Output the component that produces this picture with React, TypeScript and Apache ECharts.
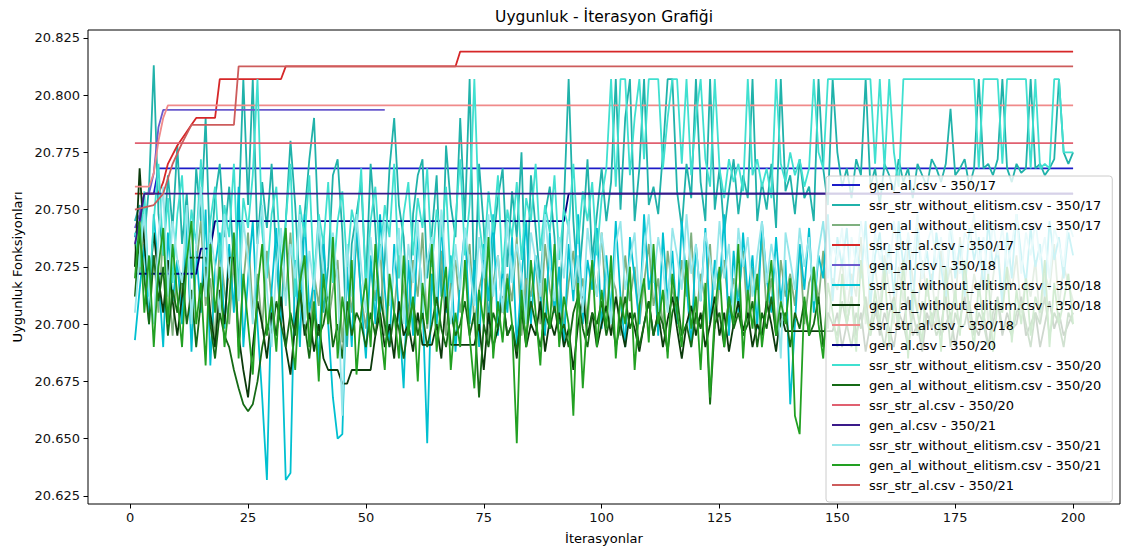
import React, { useEffect, useRef } from 'react';
import * as echarts from 'echarts';

const FONT = "'DejaVu Sans', Verdana, sans-serif";

const titleText = 'Uygunluk - İterasyon Grafiği';
const xName = 'İterasyonlar';
const yName = 'Uygunluk Fonksiyonları';

const xTicks = [0, 25, 50, 75, 100, 125, 150, 175, 200];
const yTicks = [20.625, 20.65, 20.675, 20.7, 20.725, 20.75, 20.775, 20.8, 20.825];

const iterations = Array.from({ length: 200 }, (_, i) => i + 1);

// ---- elitist runs: [iteration, fitness] change points ----
const genAl17 = [[1, 20.738], [2, 20.745], [3, 20.757], [5, 20.757], [6, 20.768], [200, 20.768]];
const genAl18 = [[1, 20.742], [2, 20.748], [3, 20.757], [4, 20.757], [5, 20.766], [6, 20.786], [7, 20.7935], [54, 20.7935]];
const genAl20 = [[1, 20.722], [14, 20.722], [15, 20.733], [17, 20.733], [18, 20.745], [92, 20.745], [93, 20.757], [200, 20.757]];
const genAl21 = [[1, 20.735], [2, 20.745], [3, 20.757], [200, 20.757]];

const ssrAl17 = [[1, 20.757], [6, 20.757], [7, 20.762], [8, 20.770], [10, 20.778], [12, 20.784], [13, 20.787], [14, 20.790], [18, 20.790], [19, 20.807], [32, 20.807], [33, 20.8125], [69, 20.8125], [70, 20.819], [200, 20.819]];
const ssrAl18 = [[1, 20.760], [4, 20.760], [5, 20.766], [6, 20.780], [7, 20.790], [8, 20.7955], [200, 20.7955]];
const ssrAl20 = [[1, 20.779], [200, 20.779]];
const ssrAl21 = [[1, 20.750], [5, 20.752], [7, 20.757], [9, 20.770], [11, 20.779], [13, 20.787], [22, 20.787], [23, 20.8125], [200, 20.8125]];

// ---- runs without elitism: fitness per iteration 1..200 ----
const ssrWo17 = [
  20.745, 20.752, 20.738, 20.760, 20.813, 20.748, 20.730, 20.765, 20.742, 20.778,
  20.735, 20.757, 20.720, 20.768, 20.745, 20.790, 20.728, 20.755, 20.770, 20.738,
  20.760, 20.725, 20.748, 20.807, 20.752, 20.807, 20.735, 20.762, 20.742, 20.770,
  20.728, 20.700, 20.745, 20.780, 20.752, 20.715, 20.748, 20.772, 20.790, 20.738,
  20.705, 20.725, 20.765, 20.772, 20.740, 20.690, 20.735, 20.748, 20.762, 20.718,
  20.770, 20.742, 20.705, 20.728, 20.768, 20.790, 20.752, 20.738, 20.700, 20.748,
  20.765, 20.772, 20.720, 20.740, 20.765, 20.712, 20.778, 20.752, 20.738, 20.790,
  20.745, 20.807, 20.710, 20.770, 20.742, 20.700, 20.735, 20.755, 20.768, 20.725,
  20.758, 20.738, 20.775, 20.705, 20.765, 20.742, 20.718, 20.748, 20.760, 20.738,
  20.700, 20.752, 20.807, 20.745, 20.715, 20.740, 20.772, 20.728, 20.748, 20.768,
  20.745, 20.762, 20.807, 20.750, 20.790, 20.807, 20.745, 20.768, 20.807, 20.752,
  20.760, 20.748, 20.775, 20.807, 20.807, 20.758, 20.742, 20.770, 20.755, 20.807,
  20.762, 20.745, 20.807, 20.750, 20.768, 20.740, 20.758, 20.772, 20.748, 20.765,
  20.755, 20.807, 20.745, 20.762, 20.750, 20.770, 20.742, 20.807, 20.758, 20.765,
  20.748, 20.772, 20.755, 20.760, 20.745, 20.807, 20.768, 20.752, 20.807, 20.775,
  20.760, 20.768, 20.755, 20.772, 20.765, 20.807, 20.760, 20.768, 20.752, 20.770,
  20.765, 20.758, 20.772, 20.762, 20.768, 20.755, 20.770, 20.765, 20.760, 20.772,
  20.768, 20.762, 20.770, 20.794, 20.765, 20.768, 20.772, 20.760, 20.768, 20.807,
  20.768, 20.770, 20.765, 20.772, 20.807, 20.768, 20.762, 20.770, 20.766, 20.768,
  20.807, 20.768, 20.770, 20.765, 20.768, 20.772, 20.807, 20.775, 20.770, 20.775,
];
const ssrWo18 = [
  20.693, 20.715, 20.735, 20.700, 20.748, 20.722, 20.690, 20.740, 20.710, 20.728,
  20.700, 20.745, 20.688, 20.732, 20.705, 20.750, 20.682, 20.725, 20.740, 20.698,
  20.735, 20.705, 20.760, 20.690, 20.720, 20.745, 20.700, 20.668, 20.632, 20.715,
  20.742, 20.700, 20.632, 20.635, 20.728, 20.690, 20.748, 20.705, 20.720, 20.682,
  20.738, 20.700, 20.668, 20.650, 20.652, 20.725, 20.690, 20.745, 20.710, 20.685,
  20.730, 20.700, 20.748, 20.715, 20.690, 20.735, 20.705, 20.672, 20.728, 20.695,
  20.740, 20.710, 20.648, 20.722, 20.698, 20.745, 20.705, 20.730, 20.688, 20.720,
  20.742, 20.700, 20.728, 20.690, 20.735, 20.710, 20.748, 20.695, 20.725, 20.705,
  20.738, 20.690, 20.720, 20.745, 20.700, 20.730, 20.712, 20.695, 20.740, 20.705,
  20.725, 20.690, 20.735, 20.710, 20.748, 20.700, 20.728, 20.715, 20.742, 20.698,
  20.730, 20.705, 20.745, 20.712, 20.690, 20.738, 20.720, 20.700, 20.748, 20.715,
  20.728, 20.695, 20.740, 20.710, 20.732, 20.700, 20.745, 20.718, 20.690, 20.735,
  20.710, 20.742, 20.700, 20.728, 20.715, 20.748, 20.695, 20.732, 20.705, 20.740,
  20.712, 20.730, 20.698, 20.745, 20.720, 20.705, 20.738, 20.710, 20.728, 20.665,
  20.700, 20.735, 20.715, 20.742, 20.705, 20.730, 20.720, 20.748, 20.710, 20.738,
  20.725, 20.742, 20.712, 20.735, 20.720, 20.745, 20.708, 20.730, 20.740, 20.718,
  20.735, 20.712, 20.745, 20.725, 20.738, 20.705, 20.742, 20.720, 20.732, 20.715,
  20.740, 20.725, 20.710, 20.745, 20.720, 20.735, 20.712, 20.742, 20.728, 20.738,
  20.715, 20.745, 20.725, 20.732, 20.708, 20.740, 20.720, 20.748, 20.730, 20.718,
  20.742, 20.725, 20.735, 20.712, 20.745, 20.728, 20.738, 20.720, 20.740, 20.730,
];
const ssrWo20 = [
  20.740, 20.725, 20.758, 20.712, 20.745, 20.770, 20.730, 20.755, 20.718, 20.748,
  20.765, 20.725, 20.750, 20.735, 20.772, 20.718, 20.745, 20.760, 20.728, 20.752,
  20.738, 20.770, 20.715, 20.755, 20.742, 20.765, 20.807, 20.740, 20.720, 20.748,
  20.760, 20.725, 20.745, 20.770, 20.712, 20.752, 20.738, 20.765, 20.720, 20.748,
  20.735, 20.762, 20.718, 20.745, 20.758, 20.725, 20.750, 20.740, 20.768, 20.715,
  20.745, 20.760, 20.728, 20.752, 20.738, 20.770, 20.720, 20.748, 20.762, 20.730,
  20.755, 20.742, 20.768, 20.725, 20.750, 20.738, 20.760, 20.718, 20.745, 20.772,
  20.730, 20.752, 20.807, 20.745, 20.728, 20.758, 20.740, 20.765, 20.722, 20.750,
  20.738, 20.762, 20.728, 20.755, 20.745, 20.770, 20.732, 20.752, 20.740, 20.765,
  20.728, 20.750, 20.742, 20.770, 20.735, 20.758, 20.745, 20.762, 20.730, 20.755,
  20.768, 20.807, 20.760, 20.807, 20.807, 20.765, 20.790, 20.807, 20.772, 20.807,
  20.807, 20.807, 20.768, 20.790, 20.807, 20.807, 20.770, 20.807, 20.765, 20.790,
  20.807, 20.772, 20.760, 20.807, 20.768, 20.755, 20.772, 20.762, 20.770, 20.758,
  20.807, 20.765, 20.772, 20.760, 20.768, 20.755, 20.807, 20.770, 20.762, 20.775,
  20.765, 20.772, 20.760, 20.768, 20.807, 20.775, 20.768, 20.807, 20.807, 20.807,
  20.807, 20.807, 20.807, 20.807, 20.807, 20.807, 20.807, 20.770, 20.807, 20.768,
  20.807, 20.775, 20.760, 20.807, 20.807, 20.807, 20.807, 20.807, 20.807, 20.807,
  20.807, 20.807, 20.807, 20.807, 20.807, 20.807, 20.807, 20.807, 20.807, 20.768,
  20.807, 20.807, 20.807, 20.807, 20.770, 20.807, 20.807, 20.807, 20.807, 20.807,
  20.768, 20.807, 20.768, 20.770, 20.768, 20.807, 20.807, 20.775, 20.775, 20.775,
];
const ssrWo21 = [
  20.705, 20.730, 20.748, 20.715, 20.700, 20.738, 20.760, 20.712, 20.745, 20.728,
  20.718, 20.752, 20.700, 20.735, 20.760, 20.712, 20.740, 20.725, 20.705, 20.748,
  20.720, 20.738, 20.710, 20.745, 20.728, 20.700, 20.735, 20.752, 20.715, 20.690,
  20.725, 20.742, 20.708, 20.735, 20.720, 20.748, 20.700, 20.732, 20.715, 20.745,
  20.722, 20.705, 20.740, 20.718, 20.660, 20.735, 20.712, 20.748, 20.725, 20.705,
  20.738, 20.715, 20.730, 20.745, 20.708, 20.725, 20.742, 20.700, 20.735, 20.718,
  20.745, 20.705, 20.728, 20.738, 20.712, 20.750, 20.722, 20.700, 20.735, 20.715,
  20.742, 20.725, 20.708, 20.738, 20.720, 20.748, 20.712, 20.730, 20.705, 20.745,
  20.718, 20.735, 20.722, 20.700, 20.740, 20.728, 20.712, 20.748, 20.725, 20.710,
  20.738, 20.720, 20.745, 20.715, 20.730, 20.705, 20.742, 20.725, 20.712, 20.740,
  20.722, 20.700, 20.735, 20.745, 20.715, 20.728, 20.740, 20.710, 20.732, 20.748,
  20.718, 20.738, 20.725, 20.705, 20.742, 20.730, 20.715, 20.748, 20.722, 20.735,
  20.710, 20.740, 20.728, 20.715, 20.745, 20.720, 20.735, 20.705, 20.742, 20.725,
  20.738, 20.712, 20.730, 20.745, 20.718, 20.735, 20.722, 20.685, 20.740, 20.728,
  20.715, 20.742, 20.725, 20.738, 20.710, 20.732, 20.745, 20.720, 20.735, 20.728,
  20.742, 20.715, 20.738, 20.725, 20.745, 20.730, 20.718, 20.740, 20.728, 20.735,
  20.722, 20.745, 20.730, 20.715, 20.740, 20.728, 20.748, 20.720, 20.735, 20.742,
  20.725, 20.738, 20.718, 20.745, 20.730, 20.722, 20.740, 20.735, 20.748, 20.725,
  20.738, 20.720, 20.745, 20.730, 20.742, 20.725, 20.735, 20.748, 20.722, 20.740,
  20.730, 20.745, 20.728, 20.738, 20.720, 20.742, 20.735, 20.725, 20.745, 20.738,
];
const genWo17 = [
  20.735, 20.722, 20.745, 20.715, 20.730, 20.705, 20.740, 20.720, 20.695, 20.728,
  20.712, 20.738, 20.700, 20.725, 20.745, 20.708, 20.720, 20.692, 20.735, 20.715,
  20.700, 20.728, 20.690, 20.718, 20.740, 20.705, 20.722, 20.698, 20.732, 20.710,
  20.695, 20.725, 20.712, 20.740, 20.700, 20.718, 20.730, 20.690, 20.722, 20.708,
  20.735, 20.700, 20.715, 20.728, 20.692, 20.720, 20.705, 20.738, 20.712, 20.698,
  20.725, 20.710, 20.735, 20.695, 20.720, 20.705, 20.730, 20.715, 20.700, 20.728,
  20.712, 20.740, 20.698, 20.722, 20.708, 20.732, 20.695, 20.718, 20.728, 20.705,
  20.720, 20.735, 20.700, 20.715, 20.725, 20.692, 20.718, 20.730, 20.705, 20.722,
  20.710, 20.738, 20.695, 20.720, 20.712, 20.728, 20.700, 20.735, 20.715, 20.705,
  20.725, 20.698, 20.718, 20.732, 20.708, 20.720, 20.700, 20.728, 20.712, 20.740,
  20.705, 20.722, 20.715, 20.695, 20.730, 20.710, 20.725, 20.700, 20.718, 20.735,
  20.708, 20.720, 20.698, 20.732, 20.715, 20.705, 20.728, 20.712, 20.740, 20.700,
  20.722, 20.710, 20.735, 20.698, 20.718, 20.728, 20.705, 20.720, 20.712, 20.732,
  20.700, 20.725, 20.715, 20.738, 20.705, 20.720, 20.695, 20.728, 20.712, 20.722,
  20.708, 20.735, 20.700, 20.718, 20.725, 20.710, 20.732, 20.698, 20.720, 20.715,
  20.728, 20.705, 20.722, 20.712, 20.738, 20.700, 20.718, 20.725, 20.708, 20.730,
  20.715, 20.700, 20.725, 20.710, 20.735, 20.720, 20.705, 20.728, 20.712, 20.722,
  20.700, 20.732, 20.715, 20.725, 20.708, 20.738, 20.718, 20.705, 20.722, 20.712,
  20.728, 20.700, 20.720, 20.735, 20.710, 20.725, 20.715, 20.730, 20.705, 20.720,
  20.712, 20.728, 20.700, 20.722, 20.715, 20.735, 20.708, 20.725, 20.718, 20.710,
];
const genWo18 = [
  20.725, 20.768, 20.735, 20.715, 20.740, 20.720, 20.705, 20.728, 20.710, 20.695,
  20.712, 20.729, 20.729, 20.729, 20.729, 20.729, 20.705, 20.690, 20.715, 20.700,
  20.729, 20.729, 20.695, 20.680, 20.668, 20.690, 20.710, 20.700, 20.685, 20.705,
  20.695, 20.712, 20.690, 20.678, 20.700, 20.715, 20.695, 20.705, 20.688, 20.700,
  20.685, 20.680, 20.680, 20.680, 20.674, 20.674, 20.680, 20.680, 20.680, 20.680,
  20.680, 20.695, 20.705, 20.690, 20.700, 20.685, 20.710, 20.695, 20.700, 20.688,
  20.705, 20.691, 20.691, 20.691, 20.700, 20.685, 20.712, 20.691, 20.691, 20.691,
  20.691, 20.691, 20.691, 20.700, 20.680, 20.705, 20.690, 20.698, 20.712, 20.695,
  20.700, 20.685, 20.708, 20.690, 20.700, 20.695, 20.710, 20.688, 20.702, 20.695,
  20.705, 20.690, 20.698, 20.680, 20.700, 20.712, 20.695, 20.705, 20.690, 20.700,
  20.708, 20.695, 20.712, 20.700, 20.690, 20.705, 20.698, 20.688, 20.700, 20.710,
  20.695, 20.705, 20.690, 20.702, 20.712, 20.698, 20.685, 20.700, 20.708, 20.695,
  20.705, 20.690, 20.700, 20.712, 20.695, 20.705, 20.688, 20.700, 20.710, 20.697,
  20.705, 20.690, 20.700, 20.695, 20.710, 20.700, 20.688, 20.705, 20.697, 20.697,
  20.697, 20.697, 20.697, 20.697, 20.697, 20.697, 20.697, 20.697, 20.697, 20.705,
  20.690, 20.700, 20.712, 20.695, 20.705, 20.688, 20.700, 20.710, 20.695, 20.705,
  20.698, 20.690, 20.705, 20.700, 20.712, 20.695, 20.700, 20.688, 20.705, 20.698,
  20.710, 20.695, 20.700, 20.705, 20.690, 20.702, 20.712, 20.698, 20.700, 20.695,
  20.705, 20.690, 20.700, 20.710, 20.695, 20.705, 20.698, 20.700, 20.712, 20.695,
  20.700, 20.705, 20.690, 20.700, 20.710, 20.698, 20.705, 20.695, 20.700, 20.705,
];
const genWo20 = [
  20.712, 20.740, 20.720, 20.700, 20.730, 20.710, 20.725, 20.695, 20.715, 20.705,
  20.722, 20.700, 20.715, 20.690, 20.710, 20.725, 20.700, 20.685, 20.705, 20.695,
  20.690, 20.680, 20.672, 20.665, 20.662, 20.665, 20.675, 20.690, 20.700, 20.695,
  20.710, 20.700, 20.690, 20.705, 20.695, 20.715, 20.700, 20.685, 20.705, 20.695,
  20.700, 20.712, 20.690, 20.700, 20.685, 20.710, 20.695, 20.705, 20.700, 20.690,
  20.705, 20.695, 20.712, 20.700, 20.690, 20.705, 20.698, 20.685, 20.700, 20.710,
  20.695, 20.705, 20.690, 20.700, 20.712, 20.698, 20.690, 20.705, 20.695, 20.700,
  20.710, 20.695, 20.705, 20.668, 20.700, 20.690, 20.705, 20.698, 20.712, 20.695,
  20.700, 20.688, 20.705, 20.695, 20.710, 20.700, 20.690, 20.705, 20.698, 20.708,
  20.695, 20.700, 20.690, 20.705, 20.712, 20.698, 20.690, 20.705, 20.700, 20.710,
  20.695, 20.705, 20.690, 20.700, 20.712, 20.698, 20.705, 20.690, 20.700, 20.710,
  20.695, 20.705, 20.700, 20.688, 20.705, 20.712, 20.695, 20.700, 20.690, 20.705,
  20.698, 20.710, 20.665, 20.700, 20.705, 20.690, 20.712, 20.698, 20.705, 20.695,
  20.700, 20.710, 20.690, 20.705, 20.698, 20.712, 20.695, 20.700, 20.705, 20.690,
  20.705, 20.698, 20.710, 20.695, 20.700, 20.712, 20.690, 20.705, 20.700, 20.695,
  20.710, 20.700, 20.690, 20.705, 20.698, 20.712, 20.695, 20.705, 20.700, 20.690,
  20.705, 20.712, 20.698, 20.700, 20.690, 20.705, 20.695, 20.710, 20.700, 20.705,
  20.695, 20.700, 20.712, 20.690, 20.705, 20.698, 20.700, 20.710, 20.695, 20.705,
  20.700, 20.690, 20.705, 20.712, 20.698, 20.700, 20.695, 20.705, 20.710, 20.700,
  20.690, 20.705, 20.700, 20.712, 20.695, 20.705, 20.700, 20.690, 20.705, 20.700,
];
const genWo21 = [
  20.720, 20.745, 20.705, 20.730, 20.690, 20.725, 20.742, 20.700, 20.735, 20.712,
  20.690, 20.728, 20.745, 20.700, 20.718, 20.682, 20.735, 20.705, 20.725, 20.690,
  20.710, 20.740, 20.685, 20.722, 20.700, 20.678, 20.715, 20.735, 20.695, 20.712,
  20.688, 20.725, 20.742, 20.700, 20.680, 20.718, 20.730, 20.690, 20.710, 20.675,
  20.722, 20.700, 20.738, 20.685, 20.712, 20.695, 20.728, 20.678, 20.705, 20.720,
  20.690, 20.735, 20.700, 20.680, 20.722, 20.705, 20.685, 20.730, 20.695, 20.712,
  20.675, 20.718, 20.700, 20.735, 20.688, 20.710, 20.725, 20.680, 20.705, 20.690,
  20.728, 20.695, 20.672, 20.715, 20.700, 20.738, 20.685, 20.710, 20.692, 20.720,
  20.700, 20.648, 20.715, 20.690, 20.728, 20.705, 20.682, 20.720, 20.698, 20.735,
  20.690, 20.712, 20.700, 20.660, 20.718, 20.672, 20.705, 20.728, 20.690, 20.715,
  20.698, 20.730, 20.685, 20.712, 20.700, 20.725, 20.680, 20.708, 20.720, 20.692,
  20.735, 20.700, 20.715, 20.685, 20.722, 20.705, 20.690, 20.728, 20.698, 20.712,
  20.680, 20.718, 20.668, 20.705, 20.725, 20.690, 20.712, 20.700, 20.735, 20.685,
  20.715, 20.698, 20.722, 20.690, 20.708, 20.728, 20.695, 20.710, 20.700, 20.720,
  20.660, 20.652, 20.712, 20.695, 20.725, 20.700, 20.685, 20.718, 20.705, 20.690,
  20.722, 20.700, 20.712, 20.688, 20.728, 20.705, 20.695, 20.715, 20.700, 20.725,
  20.690, 20.710, 20.700, 20.728, 20.685, 20.715, 20.705, 20.692, 20.720, 20.700,
  20.712, 20.688, 20.725, 20.700, 20.715, 20.695, 20.728, 20.705, 20.690, 20.718,
  20.700, 20.722, 20.688, 20.710, 20.705, 20.725, 20.692, 20.715, 20.700, 20.720,
  20.695, 20.712, 20.705, 20.728, 20.690, 20.718, 20.700, 20.710, 20.722, 20.700,
];

const perIteration = (ys: number[]) => ys.map((y, i) => [iterations[i], y]);

const seriesDefs: { name: string; color: string; data: number[][] }[] = [
  { name: 'gen_al.csv - 350/17', color: '#1c1cc8', data: genAl17 },
  { name: 'ssr_str_without_elitism.csv - 350/17', color: '#20b2aa', data: perIteration(ssrWo17) },
  { name: 'gen_al_without_elitism.csv - 350/17', color: '#7fb07f', data: perIteration(genWo17) },
  { name: 'ssr_str_al.csv - 350/17', color: '#d62728', data: ssrAl17 },
  { name: 'gen_al.csv - 350/18', color: '#6a5acd', data: genAl18 },
  { name: 'ssr_str_without_elitism.csv - 350/18', color: '#00c0d0', data: perIteration(ssrWo18) },
  { name: 'gen_al_without_elitism.csv - 350/18', color: '#0b3a0b', data: perIteration(genWo18) },
  { name: 'ssr_str_al.csv - 350/18', color: '#f08a8a', data: ssrAl18 },
  { name: 'gen_al.csv - 350/20', color: '#000080', data: genAl20 },
  { name: 'ssr_str_without_elitism.csv - 350/20', color: '#40e0d0', data: perIteration(ssrWo20) },
  { name: 'gen_al_without_elitism.csv - 350/20', color: '#156a15', data: perIteration(genWo20) },
  { name: 'ssr_str_al.csv - 350/20', color: '#e06070', data: ssrAl20 },
  { name: 'gen_al.csv - 350/21', color: '#3a1a8a', data: genAl21 },
  { name: 'ssr_str_without_elitism.csv - 350/21', color: '#96e6ea', data: perIteration(ssrWo21) },
  { name: 'gen_al_without_elitism.csv - 350/21', color: '#22a022', data: perIteration(genWo21) },
  { name: 'ssr_str_al.csv - 350/21', color: '#cd5c5c', data: ssrAl21 },
];

export default function App() {
  const ref = useRef<HTMLDivElement>(null);

  useEffect(() => {
    if (!ref.current) return;
    const chart = echarts.init(ref.current, null, { renderer: 'svg' });
    const option: any = {
      animation: false,
      backgroundColor: '#ffffff',
      textStyle: { fontFamily: FONT },
      grid: {
        left: 88, top: 30, right: 4, bottom: 45,
        show: true, borderColor: '#000000', borderWidth: 1, backgroundColor: 'transparent',
      },
      graphic: [
        {
          type: 'text', x: 604, y: 17, z: 100,
          style: {
            text: titleText, fill: '#000', font: `15.5px ${FONT}`,
            textAlign: 'center', textVerticalAlign: 'middle',
          },
        },
      ],
      legend: {
        orient: 'vertical',
        left: 826,
        top: 176,
        icon: 'rect',
        itemWidth: 28,
        itemHeight: 2,
        itemGap: 4,
        padding: [1, 11, 9, 6],
        backgroundColor: 'rgba(255,255,255,0.8)',
        borderColor: '#cccccc',
        borderWidth: 1,
        borderRadius: 3,
        selectedMode: false,
        textStyle: { fontFamily: FONT, fontSize: 13, lineHeight: 16, color: '#000', padding: [0, 0, 0, 4] },
        data: seriesDefs.map((s) => s.name),
      },
      xAxis: {
        type: 'value',
        min: -8.95,
        max: 209.95,
        name: xName,
        nameLocation: 'middle',
        nameGap: 28,
        nameTextStyle: { fontFamily: FONT, fontSize: 13, color: '#000' },
        axisLine: { show: false, onZero: false },
        axisTick: { show: true, inside: false, length: 4.5, lineStyle: { color: '#000', width: 1 }, customValues: xTicks },
        axisLabel: { show: true, margin: 7, fontFamily: FONT, fontSize: 13, color: '#111', customValues: xTicks, formatter: (v: number) => String(Math.round(v)) },
        splitLine: { show: false },
      },
      yAxis: {
        type: 'value',
        min: 20.6215,
        max: 20.8284,
        name: yName,
        nameLocation: 'middle',
        nameGap: 62,
        nameTextStyle: { fontFamily: FONT, fontSize: 13, color: '#000' },
        axisLine: { show: false, onZero: false },
        axisTick: { show: true, inside: false, length: 4.5, lineStyle: { color: '#000', width: 1 }, customValues: yTicks },
        axisLabel: { show: true, margin: 8, fontFamily: FONT, fontSize: 13, color: '#111', customValues: yTicks, formatter: (v: number) => v.toFixed(3) },
        splitLine: { show: false },
      },
      series: seriesDefs.map((s) => ({
        name: s.name,
        type: 'line',
        data: s.data,
        symbol: 'none',
        showSymbol: false,
        silent: true,
        lineStyle: { width: 1.8, color: s.color },
        itemStyle: { color: s.color },
        emphasis: { disabled: true },
      })),
    };
    chart.setOption(option);
    return () => chart.dispose();
  }, []);

  return (
    <div
      ref={ref}
      style={{ position: 'fixed', left: 0, top: 0, width: 1124, height: 550, background: '#fff' }}
    />
  );
}
